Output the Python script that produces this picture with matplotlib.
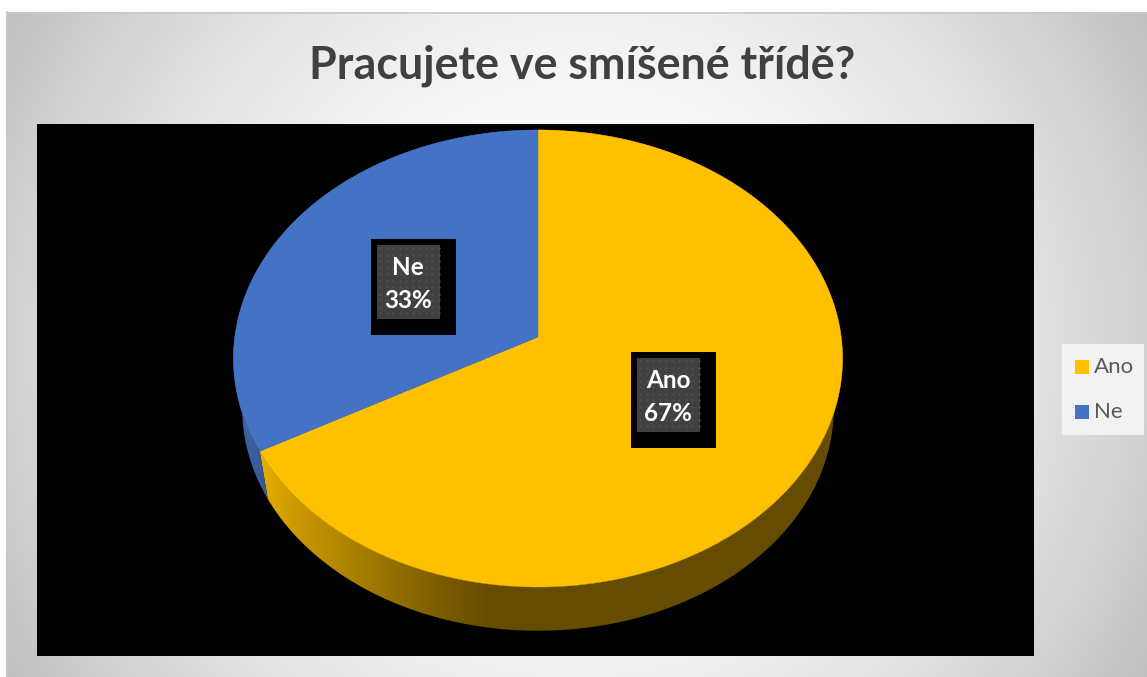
import numpy as np
import matplotlib
matplotlib.use("Agg")
import matplotlib.pyplot as plt
from matplotlib.colors import to_rgb, LinearSegmentedColormap
from matplotlib.patches import Rectangle, Polygon

# data
title = "Pracujete ve smíšené třídě?"
categories = ["Ano", "Ne"]
shares = [67, 33]
labels = ["Ano\n67%", "Ne\n33%"]
colors = ["#FFC000", "#4472C4"]

# wall shading, colour stops by pixel x
wall_x = {"Ano": [262, 300, 350, 400, 450, 490, 850], "Ne": [230, 270]}
wall_c = {"Ano": ["#E5AD00", "#C89600", "#AD8200", "#8F6C00", "#765900", "#654C00", "#654C00"],
          "Ne": ["#4468AE", "#34568F"]}

# label box positions, pixels (black box left/top)
box_pos = {"Ano": (631, 352), "Ne": (371, 239)}
legend_y = {"Ano": 367, "Ne": 412}

W, H = 1147, 677
CX, CY = 538, 337      # pie centre on the top face
A, B, K = 226.5, 303.2, 0.094   # perspective
LOW_Y, LOW_S = 388, 0.971       # bottom rim


def top_rim(theta):
    c, s = np.cos(theta), np.sin(theta)
    d = 1 + K * s
    return B * c / d, -A * s / d


def wedge_xy(t1, t2):
    th = np.linspace(t1, t2, 300)
    x, y = top_rim(th)
    return np.r_[CX, CX + x], np.r_[CY, CY + y]


fig = plt.figure(figsize=(W / 100, H / 100), dpi=100, facecolor="white")
ax = fig.add_axes([0, 0, 1, 1])
ax.axis("off")

# chart background
yy, xx = np.mgrid[12:H, 7:W]
r = np.hypot(xx - 577, yy - 345) / 660
bg = LinearSegmentedColormap.from_list("bg", ["#FFFFFF", "#C0C0C0"])
ax.imshow(r ** 2.1, extent=(7, W, H, 12), cmap=bg, vmin=0, vmax=1, aspect="auto", zorder=0)
ax.plot([7, 7], [12, H], color="#C4C4C4", lw=1.2, zorder=1)
ax.plot([7, W], [12.5, 12.5], color="#C8C8C8", lw=1.2, zorder=1)

# plot area
ax.add_patch(Rectangle((37, 124), 997, 532, fc="black", ec="none", zorder=1))

# slices start at 12 o'clock and run clockwise
fracs = np.array(shares) / sum(shares)
edges = np.pi / 2 - 2 * np.pi * np.r_[0, np.cumsum(fracs)]

# side walls: gradient image clipped to the band between the two rims
grad_x = np.arange(220, 860)
for i, cat in enumerate(categories):
    th = np.linspace(edges[i], edges[i + 1], 500)
    xt, yt = top_rim(th)
    band = np.c_[np.r_[CX + xt, CX + LOW_S * xt[::-1]],
                 np.r_[CY + yt, LOW_Y + LOW_S * yt[::-1]]]
    rgb = np.array([np.interp(grad_x, wall_x[cat], [to_rgb(c)[k] for c in wall_c[cat]])
                    for k in range(3)]).T[np.newaxis, :, :]
    im = ax.imshow(rgb, extent=(220, 860, 640, 120), aspect="auto", zorder=2)
    im.set_clip_path(Polygon(band, closed=True, transform=ax.transData))

ax.set_xlim(0, W)
ax.set_ylim(H, 0)

for i, cat in enumerate(categories):
    x, y = wedge_xy(edges[i], edges[i + 1])
    ax.fill(x, y, color=colors[i], lw=0.3, zorder=3)

# data labels
for cat, lab in zip(categories, labels):
    bx, by = box_pos[cat]
    ax.add_patch(Rectangle((bx, by), 85, 96, fc="black", ec="none", zorder=4))
    ax.add_patch(Rectangle((bx + 6, by + 6), 63, 74, fc="#404040", ec="none", zorder=5))
    dx, dy = np.meshgrid(np.arange(bx + 9, bx + 69, 6.5), np.arange(by + 9, by + 80, 6.5))
    ax.scatter(dx.ravel(), dy.ravel(), s=3, color="#4F4F4F", lw=0, zorder=6)
    ax.text(bx + 37, by + 45, lab, color="white", fontsize=17.5, fontweight="bold",
            family="Lato", ha="center", va="center", linespacing=1.52, zorder=7)

ax.text(582, 66, title, color="#404040", fontsize=32.3, fontweight="bold",
        family="Lato", ha="center", va="center", zorder=4)

# legend
ax.add_patch(Rectangle((1062, 344), 82, 91, fc="#F2F2F2", ec="none", zorder=4))
for i, cat in enumerate(categories):
    ax.add_patch(Rectangle((1075, legend_y[cat] - 7), 14, 14, fc=colors[i], ec="none", zorder=5))
    ax.text(1094, legend_y[cat], cat, color="#595959", fontsize=16, family="Lato",
            ha="left", va="center", zorder=5)

fig.savefig("out.png", dpi=100, facecolor="white")
plt.close(fig)
